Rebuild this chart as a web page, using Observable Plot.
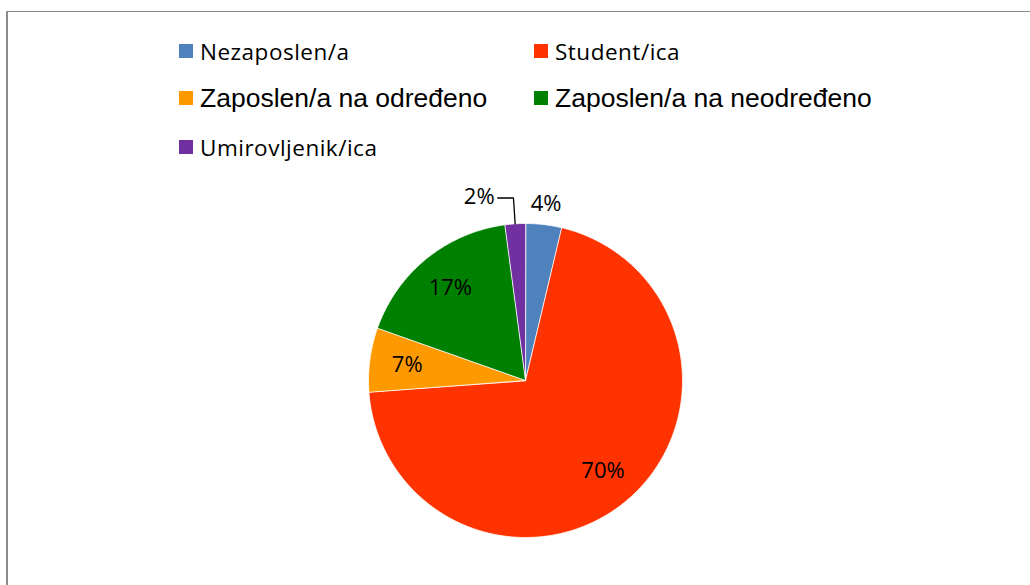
<!DOCTYPE html>
<html>
<head>
<meta charset="utf-8">
<script src="https://cdn.jsdelivr.net/npm/d3@7"></script>
<script src="https://cdn.jsdelivr.net/npm/@observablehq/plot@0.6"></script>
<style>
  html, body { margin: 0; padding: 0; background: #fff; }
  #wrap { position: relative; width: 1030px; height: 585px; overflow: hidden; }
  #frame { position: absolute; left: 6px; top: 11px; width: 1100px; height: 700px;
           border-left: 2px solid #8c8c8c; border-top: 1px solid #8c8c8c; }
  #chart { position: absolute; left: 0; top: 0; }
  .leg { position: absolute; display: flex; align-items: center; white-space: nowrap; color: #000; }
  .leg .sw { width: 14px; height: 14px; margin-right: 7px; flex: none; }
  .cal { font-family: "Open Sans", sans-serif; font-size: 22.5px; letter-spacing: 0.5px; }
  .ari { font-family: "Liberation Sans", Arial, sans-serif; font-size: 26.5px; }
</style>
</head>
<body>
<div id="wrap">
  <div id="frame"></div>
  <div id="chart"></div>
</div>
<script>
// ---- data ----
const categories = ["Nezaposlen/a", "Student/ica", "Zaposlen/a na određeno", "Zaposlen/a na neodređeno", "Umirovljenik/ica"];
const values = [3.7, 70.1, 6.6, 17.5, 2.1];
const labels = ["4%", "70%", "7%", "17%", "2%"];
const colors = ["#4F81BD", "#FF3300", "#FF9900", "#008000", "#7030A0"];

// ---- geometry derived from data (clockwise from 12 o'clock) ----
const total = d3.sum(values);
let acc = 0;
const slices = categories.map((c, i) => {
  const a0 = acc / total * 2 * Math.PI;
  acc += values[i];
  const a1 = acc / total * 2 * Math.PI;
  return {cat: c, value: values[i], label: labels[i], a0, a1, mid: (a0 + a1) / 2, share: values[i] / total};
});
const pt = (a, r) => ({x: r * Math.sin(a), y: r * Math.cos(a)});

const poly = [];
for (const s of slices) {
  poly.push({cat: s.cat, ...pt(0, 0)});
  const n = Math.max(2, Math.ceil((s.a1 - s.a0) / 0.01));
  for (let k = 0; k <= n; k++) poly.push({cat: s.cat, ...pt(s.a0 + (s.a1 - s.a0) * k / n, 1)});
}

// label placement rules
const inside = slices.filter(s => s.share >= 0.05).map(s => ({...s, ...pt(s.mid, 0.76)}));
const outside = slices.filter(s => s.share < 0.05);
const outText = [], leaders = [];
for (const s of outside) {
  const p = pt(s.mid, 1.13);
  if (s.mid > Math.PI) {
    // pushed left with a leader line
    const e = pt(s.mid, 1.0), k = pt(s.mid, 1.165);
    leaders.push({id: s.cat, x: e.x, y: e.y}, {id: s.cat, x: k.x, y: k.y}, {id: s.cat, x: k.x - 0.1, y: k.y});
    outText.push({...s, x: k.x - 0.12, y: k.y + 0.008, anchor: "end"});
  } else {
    outText.push({...s, x: p.x, y: p.y, anchor: "middle"});
  }
}

const R = 157, cx = 525, cy = 380;
const chart = Plot.plot({
  width: 1030,
  height: 585,
  margin: 0,
  x: {domain: [-1, 1], range: [cx - R, cx + R], axis: null},
  y: {domain: [-1, 1], range: [cy + R, cy - R], axis: null},
  color: {domain: categories, range: colors},
  marks: [
    Plot.line(poly, {x: "x", y: "y", z: "cat", fill: "cat", stroke: "white", strokeWidth: 0.8, curve: "linear-closed"}),
    Plot.line(leaders, {x: "x", y: "y", z: "id", stroke: "black", strokeWidth: 1.3}),
    Plot.text(inside, {x: "x", y: "y", text: "label", fontSize: 22, fill: "black"}),
    Plot.text(outText.filter(d => d.anchor === "middle"), {x: "x", y: "y", text: "label", fontSize: 22, fill: "black"}),
    Plot.text(outText.filter(d => d.anchor === "end"), {x: "x", y: "y", text: "label", fontSize: 22, fill: "black", textAnchor: "end"})
  ],
  style: {fontFamily: "'Open Sans', sans-serif", background: "transparent"}
});
document.getElementById("chart").appendChild(chart);

// ---- legend (HTML) ----
const legendLayout = [
  {i: 0, left: 179, top: 51, cls: "cal"},
  {i: 1, left: 534, top: 51, cls: "cal"},
  {i: 2, left: 179, top: 98, cls: "ari"},
  {i: 3, left: 534, top: 98, cls: "ari"},
  {i: 4, left: 179, top: 147, cls: "cal"}
];
const wrap = document.getElementById("wrap");
for (const L of legendLayout) {
  const d = document.createElement("div");
  d.className = "leg " + L.cls;
  d.style.left = L.left + "px";
  d.style.top = (L.top - 18) + "px";
  d.style.height = "36px";
  const sw = document.createElement("span");
  sw.className = "sw";
  sw.style.background = colors[L.i];
  const t = document.createElement("span");
  t.textContent = categories[L.i];
  d.appendChild(sw); d.appendChild(t);
  wrap.appendChild(d);
}
</script>
</body>
</html>
